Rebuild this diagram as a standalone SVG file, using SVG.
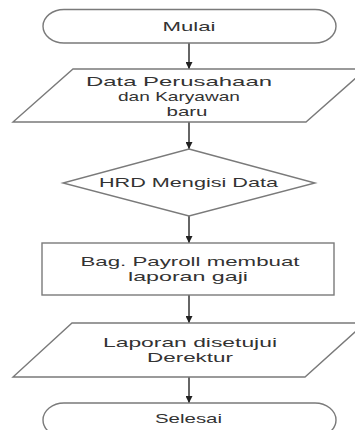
<svg xmlns="http://www.w3.org/2000/svg" width="355" height="430" viewBox="0 0 355 430">
<defs>
<marker id="arr" viewBox="0 0 10 10" refX="10" refY="5" markerWidth="7" markerHeight="7" markerUnits="userSpaceOnUse" orient="auto">
<path d="M0,0 L10,5 L0,10 Z" fill="#222"/>
</marker>
<style>
.shape{fill:#fff;stroke:#7a7a7a;stroke-width:1.4}
.t{font-family:"Liberation Sans",Arial,sans-serif;font-size:13px;fill:#333;text-anchor:middle}
.c{stroke:#333;stroke-width:1.5;fill:none;marker-end:url(#arr)}
</style>
</defs>
<rect width="355" height="430" fill="#fff"/>
<g id="connectors">
<line class="c" x1="189" y1="43" x2="189" y2="69"/>
<line class="c" x1="189" y1="122" x2="189" y2="149"/>
<line class="c" x1="189" y1="216" x2="189" y2="243"/>
<line class="c" x1="189" y1="295" x2="189" y2="323"/>
<line class="c" x1="189" y1="377" x2="189" y2="403"/>
</g>
<g id="mulai">
<rect class="shape" x="43" y="9.5" width="293" height="33.5" rx="21" ry="16.75"/>
<text class="t" x="189" y="31" textLength="53" lengthAdjust="spacingAndGlyphs">Mulai</text>
</g>
<g id="data-perusahaan">
<polygon class="shape" points="73,69 366,69 306,122 13,122"/>
<text class="t" x="179" y="86" textLength="186" lengthAdjust="spacingAndGlyphs">Data Perusahaan</text>
<text class="t" x="179" y="101" textLength="122" lengthAdjust="spacingAndGlyphs">dan Karyawan</text>
<text class="t" x="187" y="116" textLength="41" lengthAdjust="spacingAndGlyphs">baru</text>
</g>
<g id="hrd">
<polygon class="shape" points="189,149 315,183 189,216 63,183"/>
<text class="t" x="188.5" y="187" textLength="179" lengthAdjust="spacingAndGlyphs">HRD Mengisi Data</text>
</g>
<g id="payroll">
<rect class="shape" x="42" y="243" width="292" height="52"/>
<text class="t" x="190" y="266" textLength="219" lengthAdjust="spacingAndGlyphs">Bag. Payroll membuat</text>
<text class="t" x="188" y="281" textLength="120" lengthAdjust="spacingAndGlyphs">laporan gaji</text>
</g>
<g id="laporan">
<polygon class="shape" points="72,323 365,323 305,377 13,377"/>
<text class="t" x="190" y="347" textLength="174" lengthAdjust="spacingAndGlyphs">Laporan disetujui</text>
<text class="t" x="190" y="362" textLength="86" lengthAdjust="spacingAndGlyphs">Derektur</text>
</g>
<g id="selesai">
<rect class="shape" x="43" y="403" width="293" height="34" rx="21" ry="17"/>
<text class="t" x="188.5" y="423" textLength="67" lengthAdjust="spacingAndGlyphs">Selesai</text>
</g>
</svg>
